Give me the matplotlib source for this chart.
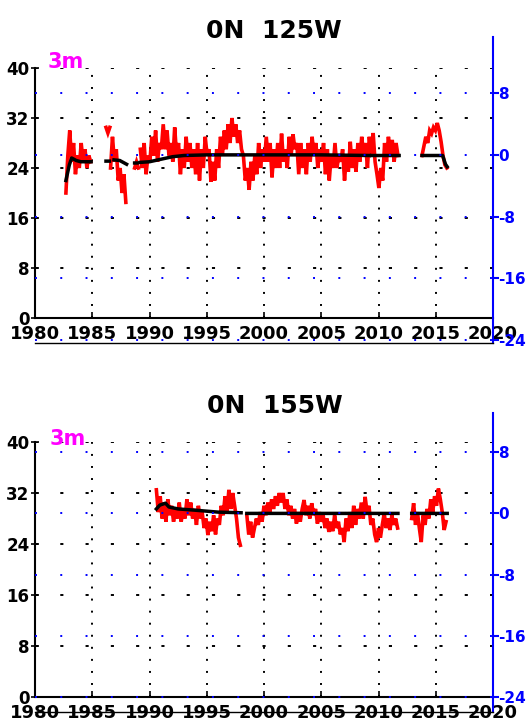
import numpy as np
import matplotlib
matplotlib.use('Agg')
import matplotlib.pyplot as plt

# red series are sampled every two months
step = 1.0 / 6

# 0N 125W, 3m temperature, one list per piece between gaps
t125_starts = [1982.7, 1986.2, 1986.6, 1988.7, 1989.2, 2013.8]
t125_pieces = [
    [20, 26, 30, 25, 28, 23, 26, 24, 28, 25, 27, 24, 26, 25],
    [30.5, 29.6, 30.5],
    [24, 29, 25, 27, 22, 24, 20, 23, 18.5],
    [24, 25, 24],
    [27, 24, 28, 23, 26, 25,
     29, 26, 30, 25, 28, 27,
     31, 27, 30, 26, 28, 25,
     30.5, 26, 28, 23, 27, 24,
     29, 25, 28, 24, 27, 23,
     28, 22, 27, 24, 29, 26,
     27, 21.8, 25, 22, 27, 24,
     29, 26, 30, 27, 31, 28,
     32, 29, 31, 28, 30, 27,
     26, 22, 24, 20.5, 25, 22,
     26, 23, 28, 24, 27, 25,
     29, 25, 28, 22.5, 27, 24,
     28, 24, 29.5, 25, 27, 24,
     29, 26, 29.4, 27, 28, 23,
     28, 24, 27, 23, 28, 25,
     29, 26, 28, 24, 27, 25,
     28, 23, 27, 22, 26, 24,
     28, 24, 26, 25, 27, 22,
     26, 23.4, 28.2, 24, 27, 23.4,
     28, 25, 29, 26, 28, 24,
     29, 26, 29.6, 25, 23, 20.8,
     24, 22, 28, 25, 29, 26,
     28.5, 25, 28, 26],
    [26, 27.5, 29, 28, 30, 29.5, 30.5, 30, 31.2, 30, 28.2, 26, 24.5, 24],
]
clim125_years = [1982.7, 1983.0, 1983.2, 1983.6, 1984.0, 1984.9, np.nan,
                 1986.2, 1986.5, np.nan, 1986.9, 1987.4, 1988.0, np.nan,
                 1988.7, 1988.9, np.nan, 1989.2, 1990.0, 1991.0, 1992.0,
                 1993.0, 1995.0, 2000.0, 2005.0, 2009.2, np.nan, 2009.4,
                 2011.8, np.nan, 2013.8, 2015.6, 2015.85, 2016.0]
clim125_vals = [22, 24.5, 25.6, 25.2, 25.0, 25.0, np.nan,
                25.1, 25.1, np.nan, 25.3, 25.2, 24.6, np.nan,
                24.8, 24.8, np.nan, 24.9, 25.0, 25.4, 25.8,
                26.0, 26.1, 26.1, 26.1, 26.0, np.nan, 26.0,
                26.0, np.nan, 26.0, 26.0, 24.6, 24.2]

# 0N 155W
t155_starts = [1990.6, 1998.5, 2012.9]
t155_pieces = [
    [32.5, 29, 31.5, 28, 30.5, 27.5,
     31, 28.5, 30, 27.5, 29.5, 28,
     30.5, 27.5, 29.5, 28, 31, 28.5,
     30.5, 28, 29.5, 27, 30, 28,
     29, 26.5, 28, 25.4, 27.5, 26,
     28.5, 25.5, 28, 27, 30, 28.5,
     31.5, 29, 32.5, 29.5, 32, 30,
     28, 25, 23.8],
    [28.5, 25.5, 27.5, 25, 26.5, 28,
     27, 29, 27.5, 30, 28.5, 30.5,
     29, 31, 29.5, 31.5, 30, 32,
     30.5, 32, 29.5, 31, 28.5, 30,
     28, 29.5, 27.2, 29, 27.5, 29.5,
     30.9, 28.5, 30, 28, 30.4, 28.5,
     29.5, 27.2, 29, 27.5, 28.5, 26.5,
     28, 25.9, 27.5, 26, 28.5, 26.5,
     27.5, 25.5, 26.5, 24.3, 28, 26,
     29, 26.5, 30, 27, 29.5, 28,
     30.5, 28, 31.4, 29, 30, 27,
     28, 25.5, 24.3, 26.5, 25, 27,
     28.8, 26.5, 28, 26.2, 28.5, 27,
     28, 26.5],
    [28, 30.4, 27, 29, 26.5, 24.3,
     28.5, 27, 29.5, 28, 31, 29,
     31.5, 30, 32.7, 31, 29, 26.2,
     27.5],
]
clim155_years = [1990.6, 1990.9, 1991.4, 1991.7, 1992.5, 1994.0, 1996.0,
                 1998.0, np.nan, 1998.5, 2007.0, np.nan, 2007.3, 2011.7,
                 np.nan, 2012.9, 2016.0]
clim155_vals = [29.5, 30.1, 30.4, 29.8, 29.5, 29.3, 29.0,
                28.9, np.nan, 28.8, 28.8, np.nan, 28.8, 28.8,
                np.nan, 28.8, 28.8]

titles = ['0N  125W', '0N  155W']
depth_label = '3m'
x_ticks = [1980, 1985, 1990, 1995, 2000, 2005, 2010, 2015, 2020]
left_ticks = [0, 8, 16, 24, 32, 40]
right_ticks = [-24, -16, -8, 0, 8]

W, H = 527, 724

plt.rcParams['font.family'] = ['DejaVu Sans']
plt.rcParams['font.weight'] = 'bold'
fs = {'title': 18, 'xt': 13, 'yt': 12, 'rt': 11, 'tag': 15}


def px_box(left, top, right, bottom):
    return [left / W, 1 - bottom / H, (right - left) / W, (bottom - top) / H]


def draw_panel(fig, lay, title, starts, pieces, cyears, cvals):
    ax = fig.add_axes(px_box(*lay['main']))
    ax.set_xlim(1980, 2020)
    ax.set_ylim(0, 40)
    for s, v in zip(starts, pieces):
        t = s + np.arange(len(v)) * step
        ax.plot(t, v, color='red', lw=2.6, solid_joinstyle='miter')
    ax.plot(cyears, cvals, color='black', lw=2.5)

    ax.set_xticks(x_ticks)
    ax.set_yticks(left_ticks)
    ax.set_xticklabels([str(x) for x in x_ticks], fontsize=fs['xt'], fontweight='bold')
    ax.set_yticklabels([str(y) for y in left_ticks], fontsize=fs['yt'], fontweight='bold')
    ax.tick_params(axis='x', direction='in', length=4, width=1.2, pad=5)
    ax.tick_params(axis='y', direction='inout', length=6, width=1.2, pad=1)
    ax.grid(axis='x', color='black', linestyle=(0, (1, 5.2)), lw=1.4)
    ax.grid(axis='y', color='black', linestyle=(0, (1.6, 11.4)), lw=1.4)
    for side in ['top', 'right']:
        ax.spines[side].set_visible(False)
    for side in ['left', 'bottom']:
        ax.spines[side].set_linewidth(1.5)

    # anomaly axis on the right
    ax2 = fig.add_axes(px_box(*lay['right']), facecolor='none')
    ax2.set_xlim(1980, 2020)
    ax2.set_ylim(*lay['rlim'])
    ax2.set_xticks([])
    ax2.yaxis.tick_right()
    ax2.set_yticks(right_ticks)
    ax2.set_yticklabels([str(y) for y in right_ticks], fontsize=fs['rt'],
                        fontweight='bold', color='blue')
    ax2.tick_params(axis='y', colors='blue', direction='out', length=4,
                    width=1.5, pad=0)
    ax2.grid(axis='y', color='blue', linestyle=(0, (1, 12)), lw=1.4)
    ax2.spines['left'].set_visible(False)
    ax2.spines['top'].set_visible(False)
    ax2.spines['right'].set_color('blue')
    ax2.spines['right'].set_linewidth(1.5)
    ax2.spines['bottom'].set_linewidth(1.0)

    tx, ty = lay['title']
    fig.text(tx / W, 1 - ty / H, title, ha='center', va='center',
             fontsize=fs['title'], fontweight='bold')
    lx, ly = lay['tag']
    fig.text(lx / W, 1 - ly / H, depth_label, ha='left', va='bottom',
             fontsize=fs['tag'], fontweight='bold', color='magenta')


layouts = [
    {'main': (35, 68, 493, 318), 'right': (35, 37, 493, 343),
     'rlim': (-24.39, 15.27), 'title': (274, 31), 'tag': (48, 72)},
    {'main': (35, 442, 493, 697), 'right': (35, 413, 493, 712),
     'rlim': (-25.96, 13.1), 'title': (275, 406), 'tag': (50, 449)},
]

fig = plt.figure(figsize=(W / 100, H / 100), dpi=100)
draw_panel(fig, layouts[0], titles[0], t125_starts, t125_pieces,
           clim125_years, clim125_vals)
draw_panel(fig, layouts[1], titles[1], t155_starts, t155_pieces,
           clim155_years, clim155_vals)
fig.savefig('out.png', dpi=100)
